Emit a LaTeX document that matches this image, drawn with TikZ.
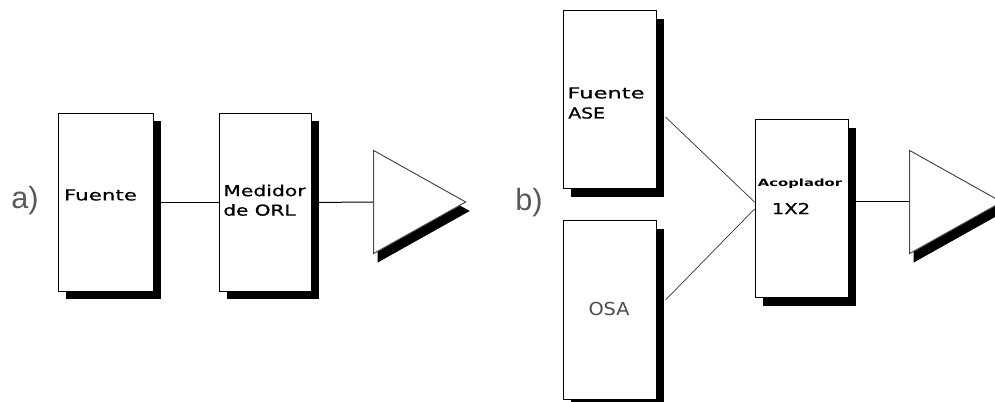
\documentclass[tikz,border=0pt]{standalone}
\usepackage{graphicx}
\usepackage{fontspec}
\setmainfont{DejaVu Sans}
\newfontfamily\labelfont{Liberation Sans}
\newfontfamily\heavyfont[FakeBold=0.5]{DejaVu Sans}
\usetikzlibrary{shapes.geometric,shadows}
\newcommand{\px}{0.75pt}
\newcommand{\wide}[2]{\scalebox{#1}[1]{#2}}
\tikzset{
	blockshadow/.style={drop shadow={shadow xshift=8*\px,shadow yshift=-8*\px,fill=black,opacity=1}},
	block/.style={draw,fill=white,line width=1*\px,inner sep=0pt,minimum height=178*\px,blockshadow},
	amp/.style={draw=black!70,fill=white,line width=1*\px,inner sep=0pt,isosceles triangle,isosceles triangle stretches,minimum width=103*\px,minimum height=92*\px,anchor=apex,
		drop shadow={shadow xshift=4*\px,shadow yshift=-9*\px,fill=black,opacity=1}},
	blocktext/.style={inner sep=0pt,font=\heavyfont\fontsize{11.3pt}{14pt}\selectfont},
	partlabel/.style={inner sep=0pt,text=black!65,font=\labelfont\fontsize{23pt}{26pt}\selectfont},
	link/.style={line width=1*\px},
	slant/.style={line width=0.7*\px,draw=black!80}
}
\begin{document}
\begin{tikzpicture}[x=\px,y=-\px]
	\useasboundingbox (0,0) rectangle (995,402);
	% a)
	\node[partlabel] (labela) at (25,201) {a)};
	\node[block,minimum width=95*\px] (fuente) at (105.5,202.5) {};
	\node[block,minimum width=92*\px] (medidor) at (265,202.5) {};
	\node[amp] (ampa) at (467,202) {};
	\node[blocktext] (fuentetxt) at (100.5,195) {\wide{1.42}{Fuente}};
	\node[blocktext] (medidortxt) at (264.5,190.5) {\wide{1.35}{Medidor}};
	\node[blocktext] (orltxt) at (259.5,210) {\wide{1.33}{de ORL}};
	\draw[link] (fuente.east)--(medidor.west);
	\draw[link] (medidor.east)--(ampa.lower side);
	% b)
	\node[partlabel] (labelb) at (529,203) {b)};
	\node[block,minimum width=93*\px] (ase) at (609.5,100) {};
	\node[block,minimum width=93*\px] (osa) at (609.5,310) {};
	\node[block,minimum width=93*\px] (acoplador) at (801.5,209) {};
	\node[amp] (ampb) at (1003,202) {};
	\node[blocktext] (asetxt) at (606,93) {\wide{1.5}{Fuente}};
	\node[blocktext,anchor=west] (asetxtb) at (568,113) {\wide{1.25}{ASE}};
	\node[blocktext,text=black!70,font=\fontsize{13.4pt}{16pt}\selectfont] (osatxt) at (609,309) {\wide{1.08}{OSA}};
	\node[blocktext,font=\bfseries\fontsize{7.5pt}{9pt}\selectfont] (acopladortxt) at (800,184) {\wide{1.48}{Acoplador}};
	\node[blocktext] (unoxdos) at (791,208.5) {\wide{1.3}{1X2}};
	\draw[slant] ([shift={(9,17)}]ase.east)--(acoplador.west|-ampb.lower side);
	\draw[slant] ([shift={(9,-10)}]osa.east)--(acoplador.west);
	\draw[link] (acoplador.east|-ampb.lower side)--(ampb.lower side);
\end{tikzpicture}
\end{document}
